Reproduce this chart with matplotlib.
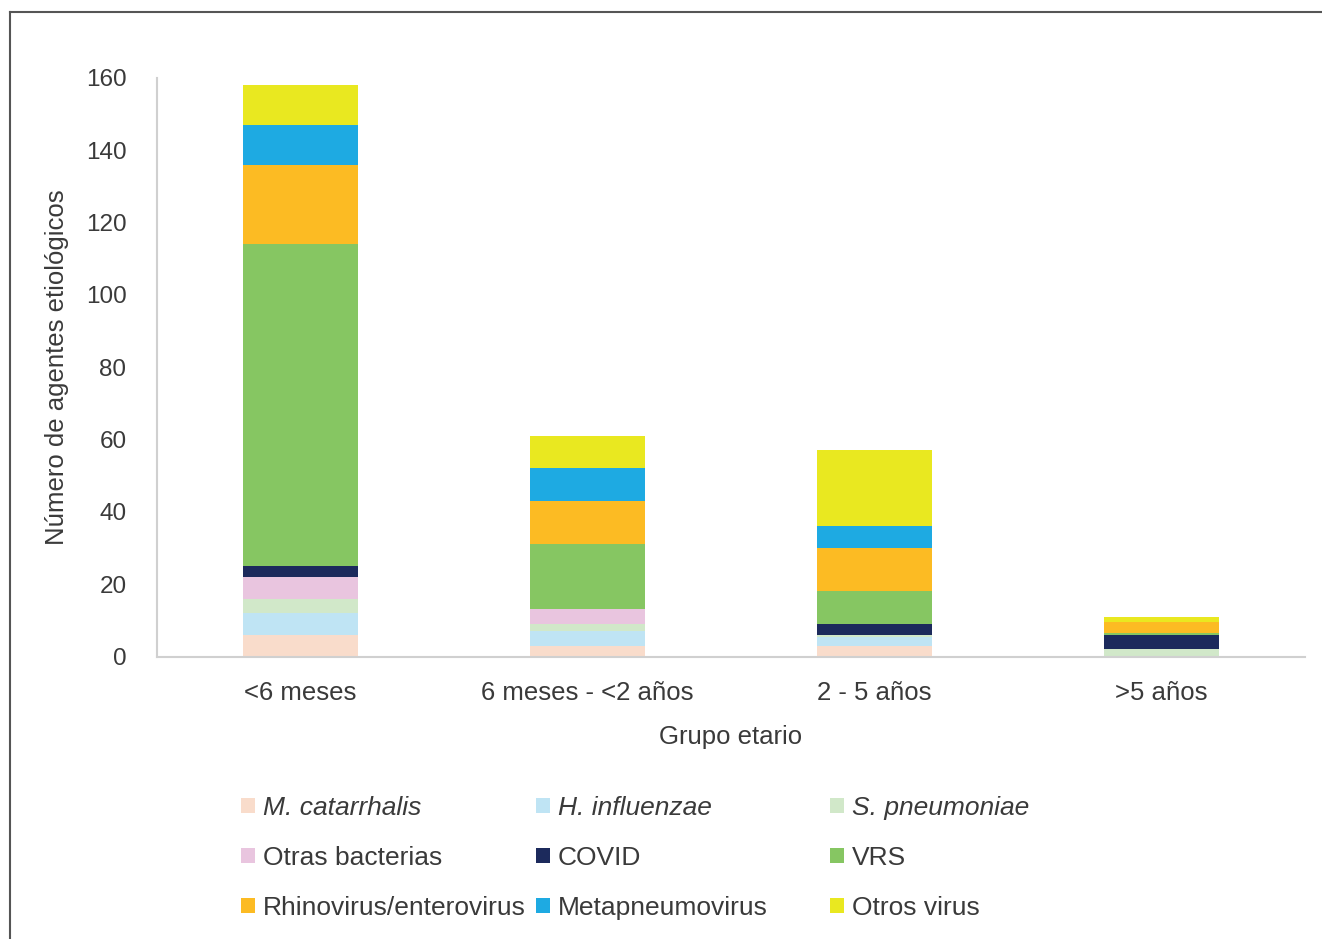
import matplotlib.pyplot as plt
from matplotlib.lines import Line2D
import numpy as np

# age groups and counts of etiological agents per group
grupos = ['<6 meses', '6 meses - <2 años', '2 - 5 años', '>5 años']

m_catarrhalis = [6, 3, 3, 0]
h_influenzae = [6, 4, 2.5, 0]
s_pneumoniae = [4, 2, 0.5, 2]
otras_bacterias = [6, 4, 0, 0]
covid = [3, 0, 3, 4]
vrs = [89, 18, 9, 0.5]
rhino_entero = [22, 12, 12, 3]
metapneumo = [11, 9, 6, 0]
otros_virus = [11, 9, 21, 1.5]

series = [
    ('M. catarrhalis', m_catarrhalis, '#f9dccb', True),
    ('H. influenzae', h_influenzae, '#bfe4f4', True),
    ('S. pneumoniae', s_pneumoniae, '#d1e8c9', True),
    ('Otras bacterias', otras_bacterias, '#e9c5df', False),
    ('COVID', covid, '#1c2a5c', False),
    ('VRS', vrs, '#86c662', False),
    ('Rhinovirus/enterovirus', rhino_entero, '#fcbb23', False),
    ('Metapneumovirus', metapneumo, '#1eaae2', False),
    ('Otros virus', otros_virus, '#e9e820', False),
]

plt.rcParams['font.family'] = ['Liberation Sans', 'DejaVu Sans']
txt = '#3a3a3a'

fig = plt.figure(figsize=(13.22, 9.39), dpi=100)
ax = fig.add_axes([157 / 1322, 1 - 656.5 / 939, (1305 - 157) / 1322, (656.5 - 78) / 939])

x = np.arange(len(grupos))
bottom = np.zeros(len(grupos))
handles = []
for name, vals, color, italic in series:
    b = ax.bar(x, vals, 0.4, bottom=bottom, color=color, label=name)
    handles.append((b, name, italic))
    bottom += np.array(vals)

ax.set_xlim(-0.5, 3.5)
ax.set_ylim(0, 160)
ax.set_yticks(range(0, 161, 20))
ax.set_xticks(x)
ax.set_xticklabels(grupos)
for s in ['top', 'right']:
    ax.spines[s].set_visible(False)
for s in ['left', 'bottom']:
    ax.spines[s].set_color('#d0d0d0')
    ax.spines[s].set_linewidth(1.5)
ax.tick_params(axis='both', length=0, labelcolor=txt)
ax.tick_params(axis='x', pad=18, labelsize=18.5)
ax.tick_params(axis='y', pad=22, labelsize=17.5)
ax.set_xlabel('Grupo etario', fontsize=18.5, color=txt, labelpad=14)
ax.set_ylabel('Número de agentes etiológicos', fontsize=18.5, color=txt, labelpad=12)

# legend: three equally spaced columns, filled row by row
col_x = [241 / 1322, 536 / 1322, 830 / 1322]
for c in range(3):
    hs = [handles[r * 3 + c] for r in range(3)]
    leg = fig.legend([h[0] for h in hs], [h[1] for h in hs], loc='upper left',
                     bbox_to_anchor=(col_x[c], 1 - 796 / 939), frameon=False,
                     fontsize=19, handlelength=0.53, handleheight=0.53,
                     handletextpad=0.3, labelspacing=0.98, borderpad=0, borderaxespad=0)
    for t, h in zip(leg.get_texts(), hs):
        t.set_color(txt)
        if h[2]:
            t.set_style('italic')

# frame lines along the top and left edges
fig.add_artist(Line2D([10 / 1322, 1], [1 - 12 / 939, 1 - 12 / 939], color='#555555', lw=1.5))
fig.add_artist(Line2D([10 / 1322, 10 / 1322], [0, 1 - 12 / 939], color='#555555', lw=1.5))

fig.savefig('out.png', dpi=100)
